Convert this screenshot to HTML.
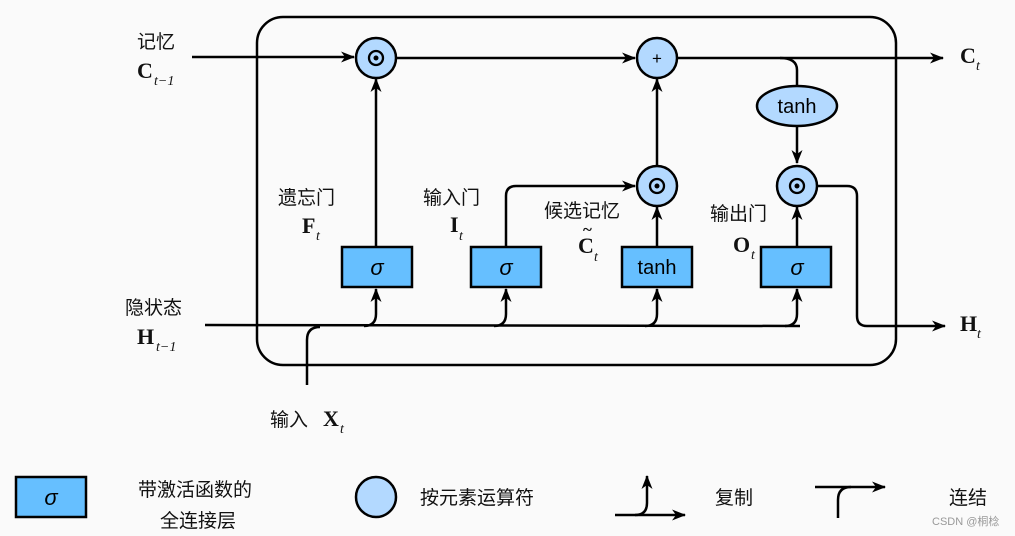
<!DOCTYPE html>
<html><head><meta charset="utf-8"><style>
html,body{margin:0;padding:0;background:#fafafa;}
svg{display:block;}
.cn{font-family:"Liberation Sans","Noto Sans CJK SC",sans-serif;font-size:19px;fill:#111;}
.m{font-family:"Liberation Serif",serif;font-weight:bold;font-size:22px;fill:#111;}
.s{font-family:"Liberation Serif",serif;font-style:italic;font-size:14px;fill:#111;}
.b{font-family:"Liberation Sans",sans-serif;font-size:20px;fill:#000;}
</style></head><body>
<svg width="1015" height="536" viewBox="0 0 1015 536" xmlns="http://www.w3.org/2000/svg">
<defs><marker id="a" markerWidth="14" markerHeight="11" refX="13" refY="5.5" orient="auto" markerUnits="userSpaceOnUse"><path d="M0,0 L14,5.5 L0,11 L4,5.5 z" fill="#000"/></marker></defs>
<g fill="none" stroke="#000" stroke-width="2.5">
<rect x="257" y="17" width="639" height="348" rx="26"/>
<path d="M192,57 H354" marker-end="url(#a)"/>
<path d="M397,58 H635" marker-end="url(#a)"/>
<path d="M677,58 H943" marker-end="url(#a)"/>
<path d="M780,58 Q797,58 797,70 V86"/>
<path d="M797,126 V163" marker-end="url(#a)"/>
<path d="M376,247 V79" marker-end="url(#a)"/>
<path d="M657,165 V79" marker-end="url(#a)"/>
<path d="M657,247 V207" marker-end="url(#a)"/>
<path d="M797,247 V207" marker-end="url(#a)"/>
<path d="M506,247 V196 Q506,186 516,186 H635" marker-end="url(#a)"/>
<path d="M205,325 L800,326"/>
<path d="M307,385 V340 Q307,327 320,327"/>
<path d="M364,326 Q376,326 376,314 V289" marker-end="url(#a)"/>
<path d="M494,326 Q506,326 506,314 V289" marker-end="url(#a)"/>
<path d="M645,326 Q657,326 657,314 V289" marker-end="url(#a)"/>
<path d="M785,326 Q797,326 797,314 V289" marker-end="url(#a)"/>
<path d="M817,186 H847 Q857,186 857,196 V316 Q857,326 867,326 H945" marker-end="url(#a)"/>
<path d="M615,515 H685" marker-end="url(#a)"/>
<path d="M635,515 Q647,515 647,503 V476" marker-end="url(#a)"/>
<path d="M815,487 H885" marker-end="url(#a)"/>
<path d="M838,518 V500 Q838,487 851,487"/>
</g>
<g stroke="#000" stroke-width="2.5">
<circle cx="376" cy="58" r="20" fill="#b3d9ff"/>
<circle cx="657" cy="58" r="20" fill="#b3d9ff"/>
<circle cx="657" cy="186" r="20" fill="#b3d9ff"/>
<circle cx="797" cy="186" r="20" fill="#b3d9ff"/>
<ellipse cx="797" cy="106" rx="40" ry="20" fill="#b3d9ff"/>
<rect x="342" y="247" width="70" height="40" fill="#66bfff"/>
<rect x="471" y="247" width="70" height="40" fill="#66bfff"/>
<rect x="622" y="247" width="70" height="40" fill="#66bfff"/>
<rect x="761" y="247" width="70" height="40" fill="#66bfff"/>
<rect x="16" y="477" width="70" height="40" fill="#66bfff"/>
<circle cx="376" cy="497" r="20" fill="#b3d9ff"/>
</g>
<g fill="none" stroke="#000" stroke-width="2.3">
<circle cx="376" cy="58" r="7"/><circle cx="657" cy="186" r="7"/><circle cx="797" cy="186" r="7"/>
</g>
<g fill="#000"><circle cx="376" cy="58" r="2.5"/><circle cx="657" cy="186" r="2.5"/><circle cx="797" cy="186" r="2.5"/></g>
<text x="657" y="64" text-anchor="middle" class="b" style="font-size:17px">+</text>
<text x="797" y="113" text-anchor="middle" class="b">tanh</text>
<text x="657" y="274" text-anchor="middle" class="b">tanh</text>
<g class="b" style="font-style:italic;font-size:22px" text-anchor="middle">
<text x="377" y="275">σ</text><text x="506" y="275">σ</text><text x="797" y="275">σ</text><text x="51" y="505">σ</text>
</g>
<text x="137" y="48" class="cn">记忆</text>
<text x="137" y="78" class="m">C</text><text x="154" y="85" class="s">t−1</text>
<text x="278" y="204" class="cn">遗忘门</text>
<text x="302" y="233" class="m">F</text><text x="316" y="240" class="s">t</text>
<text x="423" y="204" class="cn">输入门</text>
<text x="450" y="232" class="m">I</text><text x="459" y="240" class="s">t</text>
<text x="544" y="217" class="cn">候选记忆</text>
<text x="578" y="253" class="m">C</text><text x="583" y="235" class="m" style="font-size:17px">~</text><text x="594" y="261" class="s">t</text>
<text x="710" y="220" class="cn">输出门</text>
<text x="733" y="252" class="m">O</text><text x="751" y="259" class="s">t</text>
<text x="960" y="63" class="m">C</text><text x="976" y="70" class="s">t</text>
<text x="960" y="331" class="m">H</text><text x="977" y="338" class="s">t</text>
<text x="125" y="314" class="cn">隐状态</text>
<text x="137" y="344" class="m">H</text><text x="156" y="351" class="s">t−1</text>
<text x="270" y="426" class="cn">输入</text>
<text x="323" y="426" class="m">X</text><text x="340" y="433" class="s">t</text>
<text x="138" y="496" class="cn">带激活函数的</text>
<text x="160" y="527" class="cn">全连接层</text>
<text x="420" y="504" class="cn">按元素运算符</text>
<text x="715" y="504" class="cn">复制</text>
<text x="949" y="504" class="cn">连结</text>
<text x="932" y="525" style="font-family:'Liberation Sans','Noto Sans CJK SC',sans-serif;font-size:11px;fill:#999">CSDN @桐棯</text>
</svg>
</body></html>
